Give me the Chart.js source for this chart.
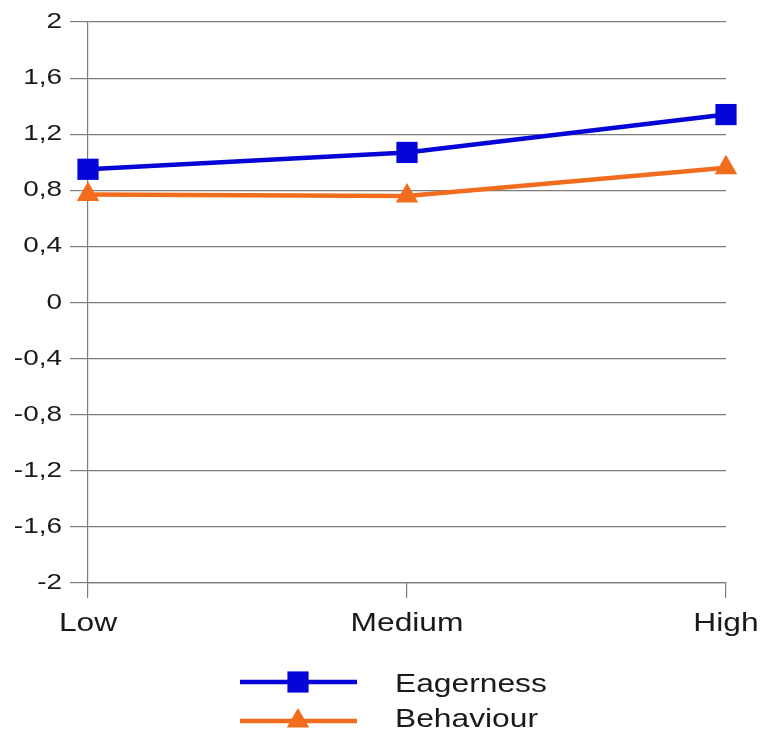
<!DOCTYPE html>
<html>
<head>
<meta charset="utf-8">
<script src="https://cdn.jsdelivr.net/npm/chart.js@4"></script>
<style>
  html, body { margin: 0; padding: 0; background: #fff; }
  #wrap { width: 763px; height: 733px; }
</style>
</head>
<body>
<div id="wrap"><canvas id="lineChart" width="763" height="733"></canvas></div>
<script>
var categories = ["Low", "Medium", "High"];
var eagerness = [0.95, 1.07, 1.34];
var behaviour = [0.77, 0.76, 0.96];
var seriesNames = ["Eagerness", "Behaviour"];

var FONT = "'Liberation Sans', Arial, sans-serif";
var GRID = '#7c7c7c';
var TEXT = '#1a1a1a';
var STRETCH = 1.27; // the source text is drawn wider than normal Arial

function wideText(ctx, txt, x, y, align) {
    var w = ctx.measureText(txt).width * STRETCH;
    var x0 = x;
    if (align === 'right') x0 = x - w;
    if (align === 'center') x0 = x - w / 2;
    ctx.save();
    ctx.translate(x0, y);
    ctx.scale(STRETCH, 1);
    ctx.textAlign = 'left';
    ctx.fillText(txt, 0, 0);
    ctx.restore();
}

// tick labels, drawn from the scales' own ticks
var wideTicks = {
    id: 'wideTicks',
    afterDraw: function (chart) {
        var ctx = chart.ctx;
        var sy = chart.scales.y;
        var sx = chart.scales.x;
        ctx.save();
        ctx.fillStyle = TEXT;
        ctx.textBaseline = 'middle';
        ctx.font = '22px ' + FONT;
        sy.ticks.forEach(function (t) {
            wideText(ctx, t.label, 62, sy.getPixelForValue(t.value), 'right');
        });
        ctx.textBaseline = 'alphabetic';
        ctx.font = '25px ' + FONT;
        sx.ticks.forEach(function (t, i) {
            wideText(ctx, chart.data.labels[i], sx.getPixelForTick(i), 631, 'center');
        });
        ctx.restore();
    }
};

// legend drawn by hand: line with marker in the middle, text on the right
var legendLines = {
    id: 'legendLines',
    afterDraw: function (chart) {
        var ctx = chart.ctx;
        var rows = [682, 721];
        var base = [692, 727];
        chart.data.datasets.forEach(function (ds, i) {
            var y = rows[i];
            ctx.save();
            ctx.strokeStyle = ds.borderColor;
            ctx.lineWidth = ds.borderWidth;
            ctx.beginPath();
            ctx.moveTo(240, y);
            ctx.lineTo(357, y);
            ctx.stroke();
            ctx.fillStyle = ds.borderColor;
            Chart.helpers.drawPoint(ctx, {
                pointStyle: ds.pointStyle,
                radius: ds.pointRadius,
                borderWidth: 0
            }, 298, y);
            ctx.fillStyle = TEXT;
            ctx.font = '25px ' + FONT;
            ctx.textBaseline = 'alphabetic';
            wideText(ctx, ds.label, 395, base[i], 'left');
            ctx.restore();
        });
    }
};

var oChart = new Chart(document.getElementById('lineChart'), {
    type: 'line',
    data: {
        labels: categories,
        datasets: [{
            label: seriesNames[0],
            data: eagerness,
            borderColor: '#0505d8',
            backgroundColor: '#0505d8',
            borderWidth: 4.5,
            pointStyle: 'rect',
            pointRadius: 15,
            pointBorderWidth: 0,
            tension: 0
        }, {
            label: seriesNames[1],
            data: behaviour,
            borderColor: '#f26c1e',
            backgroundColor: '#f26c1e',
            borderWidth: 4.5,
            pointStyle: 'triangle',
            pointRadius: 13,
            pointBorderWidth: 0,
            tension: 0
        }]
    },
    options: {
        responsive: false,
        animation: false,
        layout: { padding: { top: 22, right: 37, left: 0, bottom: 0 } },
        plugins: {
            legend: { display: false },
            tooltip: { enabled: false }
        },
        scales: {
            x: {
                offset: false,
                afterFit: function (s) { s.height = 150; },
                grid: {
                    drawOnChartArea: false,
                    drawTicks: true,
                    tickLength: 15,
                    color: GRID,
                    lineWidth: 1.2
                },
                border: { color: GRID, width: 1.2 },
                ticks: { display: false }
            },
            y: {
                min: -2,
                max: 2,
                afterFit: function (s) { s.width = 88; },
                grid: {
                    color: GRID,
                    lineWidth: 1.2,
                    tickLength: 18
                },
                border: { color: GRID, width: 1.2 },
                ticks: {
                    display: false,
                    stepSize: 0.4,
                    callback: function (v) {
                        var r = Math.round(v * 10) / 10;
                        return String(r).replace('.', ',');
                    }
                }
            }
        }
    },
    plugins: [wideTicks, legendLines]
});
</script>
</body>
</html>
